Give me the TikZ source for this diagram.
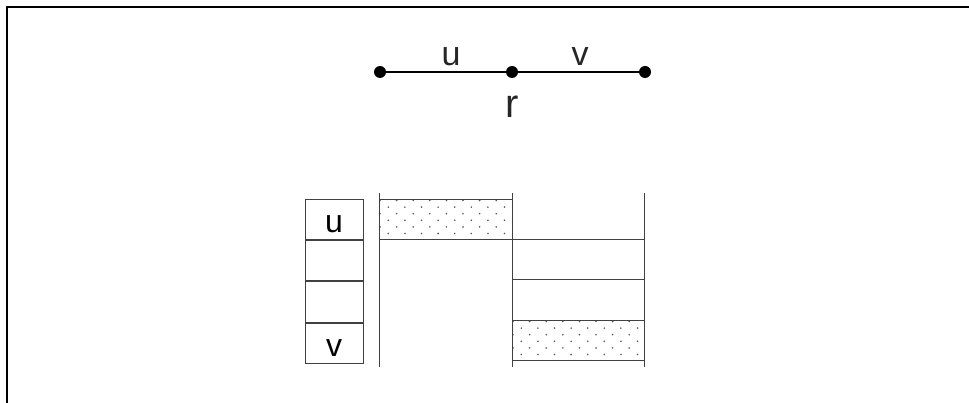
\documentclass[tikz,border=0pt]{standalone}
\usepackage{fontspec}
\setmainfont{Liberation Sans}
\usetikzlibrary{positioning}

\newcommand{\speckle}[4]{%
  \foreach \row in {0,...,5} {
    \pgfmathsetmacro{\yy}{#2+1.5+\row*6.6}
    \pgfmathsetmacro{\off}{mod(\row,2)*8.3}
    \foreach \col in {0,...,8} {
      \pgfmathsetmacro{\xx}{#1+1+\off+\col*16.6}
      \pgfmathparse{\xx<#3-2 ? 1 : 0}
      \ifnum\pgfmathresult=1 \fill[black!65] (\xx,\yy) circle (0.9);\fi
    }
  }
}

\begin{document}
\begin{tikzpicture}[x=1pt, y=-1pt,
    vertex/.style={circle, fill=black, inner sep=0pt, minimum size=12pt},
    cell/.style={draw=black!75, line width=0.9pt, minimum width=58pt, minimum height=40.5pt, inner sep=0pt, text height=26pt, text depth=0pt, font=\fontsize{32}{36}\selectfont},
    bar/.style={draw=black!75, line width=0.9pt},
    edgelabel/.style={font=\fontsize{34}{38}\selectfont, text=black!85}]
    \useasboundingbox (0,0) rectangle (969,403);
    % Frame
    \draw[line width=2pt] (7,403) -- (7,7) -- (969,7);

    % Nodes
    \node[vertex] (left) at (380,72) {};
    \node[vertex] (root) at (512,72) {};
    \node[vertex] (right) at (645,72) {};
    \node[edgelabel] (ulabel) at (451,57) {u};
    \node[edgelabel] (vlabel) at (580,57) {v};
    \node[font=\fontsize{40}{44}\selectfont, text=black!85] (rlabel) at (512,107) {r};

    % Edges
    \draw[line width=2.2pt] (left) -- (root);
    \draw[line width=2.2pt] (root) -- (right);

    % Stack
    \node[cell] (su) at (334,219.3) {u};
    \node[cell, below=0pt of su] (s2) {};
    \node[cell, below=0pt of s2] (s3) {};
    \node[cell, below=0pt of s3] (sv) {v};

    % Columns
    \speckle{379}{199}{512}{239}
    \speckle{512}{320}{644}{360}
    \draw[bar] (379,193) -- (379,367);
    \draw[bar] (512,193) -- (512,367);
    \draw[bar] (644,193) -- (644,367);
    \draw[bar] (379,199) -- (512,199);
    \draw[bar] (379,239) -- (644,239);
    \draw[bar] (512,279) -- (644,279);
    \draw[bar] (512,320) -- (644,320);
    \draw[bar] (512,360) -- (644,360);
\end{tikzpicture}
\end{document}
